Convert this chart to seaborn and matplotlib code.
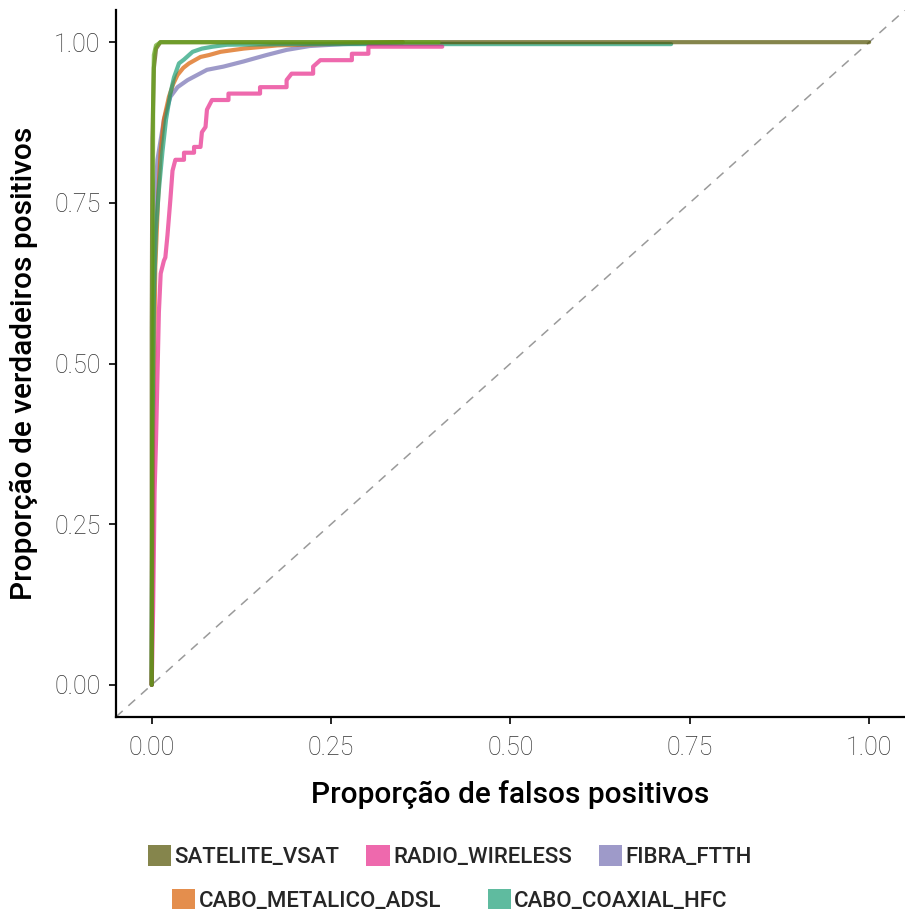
import numpy as np
import pandas as pd
import matplotlib
matplotlib.use("Agg")
import matplotlib.pyplot as plt
from matplotlib.patches import Patch
import seaborn as sns

# ROC curve points (fpr, tpr)
classes = ["SATELITE_VSAT", "RADIO_WIRELESS", "FIBRA_FTTH",
           "CABO_METALICO_ADSL", "CABO_COAXIAL_HFC"]

sat_fpr = [0.0, 0.0, 0.001, 0.003, 0.006, 0.012, 1.0]
sat_tpr = [0.0, 0.55, 0.85, 0.96, 0.99, 1.0, 1.0]

radio_fpr = [0.0, 0.002, 0.004, 0.006, 0.008, 0.010, 0.0125, 0.017, 0.019, 0.022,
             0.026, 0.029, 0.033, 0.045, 0.045, 0.059, 0.059, 0.068, 0.070, 0.075,
             0.077, 0.084, 0.107, 0.107, 0.151, 0.151, 0.188, 0.188, 0.195, 0.225,
             0.225, 0.235, 0.279, 0.279, 0.302, 0.302, 0.405]
radio_tpr = [0.0, 0.12, 0.30, 0.38, 0.48, 0.58, 0.64, 0.66, 0.665, 0.70,
             0.755, 0.80, 0.817, 0.817, 0.828, 0.828, 0.837, 0.837, 0.86, 0.868,
             0.895, 0.91, 0.91, 0.92, 0.92, 0.93, 0.93, 0.941, 0.951, 0.951,
             0.962, 0.972, 0.972, 0.982, 0.982, 0.993, 0.993]

fibra_fpr = [0.0, 0.001, 0.003, 0.005, 0.008, 0.0125, 0.017, 0.026, 0.036, 0.05,
             0.077, 0.10, 0.128, 0.16, 0.188, 0.22, 0.267, 0.35]
fibra_tpr = [0.0, 0.40, 0.68, 0.76, 0.817, 0.848, 0.879, 0.915, 0.93, 0.941,
             0.957, 0.962, 0.97, 0.98, 0.988, 0.994, 0.997, 1.0]

metal_fpr = [0.0, 0.002, 0.005, 0.009, 0.0125, 0.017, 0.024, 0.030, 0.036, 0.044,
             0.052, 0.068, 0.080, 0.096, 0.128, 0.175, 0.27, 0.35]
metal_tpr = [0.0, 0.40, 0.65, 0.76, 0.83, 0.88, 0.915, 0.935, 0.949, 0.96,
             0.967, 0.977, 0.98, 0.985, 0.99, 0.995, 0.998, 1.0]

coax_fpr = [0.0, 0.001, 0.003, 0.006, 0.010, 0.015, 0.020, 0.026, 0.031, 0.038,
            0.045, 0.057, 0.070, 0.085, 0.105, 0.20, 0.724]
coax_tpr = [0.0, 0.35, 0.60, 0.71, 0.77, 0.83, 0.88, 0.92, 0.945, 0.967,
            0.973, 0.985, 0.99, 0.993, 0.996, 0.997, 0.997]

# extra curve drawn in the reference but absent from its legend
extra_fpr = [0.0, 0.002, 0.003, 0.006, 0.0125, 0.40]
extra_tpr = [0.0, 0.90, 0.98, 0.995, 1.0, 1.0]

colors = {
    "SATELITE_VSAT": "#525200",
    "RADIO_WIRELESS": "#e7298a",
    "FIBRA_FTTH": "#7570b3",
    "CABO_METALICO_ADSL": "#d95f02",
    "CABO_COAXIAL_HFC": "#1b9e77",
    "OUTRO": "#66a61e",
}

# drawing order: later rows end up on top
frames = []
for name, fx, ty in [("FIBRA_FTTH", fibra_fpr, fibra_tpr),
                     ("CABO_METALICO_ADSL", metal_fpr, metal_tpr),
                     ("CABO_COAXIAL_HFC", coax_fpr, coax_tpr),
                     ("RADIO_WIRELESS", radio_fpr, radio_tpr),
                     ("SATELITE_VSAT", sat_fpr, sat_tpr),
                     ("OUTRO", extra_fpr, extra_tpr)]:
    frames.append(pd.DataFrame({"fpr": fx, "tpr": ty, "classe": name}))
df = pd.concat(frames, ignore_index=True)

sns.set_theme(style="white")
plt.rcParams["font.family"] = ["Roboto", "DejaVu Sans"]

fig = plt.figure(figsize=(9.05, 9.13), dpi=100)
ax = fig.add_axes([0.128, 0.2147, 0.872, 0.7743])

ax.axline((0, 0), (1, 1), color="#9a9a9a", lw=1.1, ls=(0, (6, 5)), zorder=1)

sns.lineplot(data=df, x="fpr", y="tpr", hue="classe", palette=colors,
             hue_order=list(df["classe"].unique()),
             sort=False, estimator=None, lw=3.0, alpha=0.7, legend=False, ax=ax)

ax.set_xlim(-0.05, 1.05)
ax.set_ylim(-0.05, 1.05)
ticks = [0.0, 0.25, 0.5, 0.75, 1.0]
labels = ["0.00", "0.25", "0.50", "0.75", "1.00"]
ax.set_xticks(ticks)
ax.set_yticks(ticks)
ax.set_xticklabels(labels, fontsize=18, fontweight="light", color="#333333")
ax.set_yticklabels(labels, fontsize=18, fontweight="light", color="#333333")
ax.tick_params(axis="both", direction="out", length=5, width=1.2, color="black",
               bottom=True, left=True)
ax.tick_params(axis="x", pad=9)
ax.tick_params(axis="y", pad=6)

for s in ["top", "right"]:
    ax.spines[s].set_visible(False)
for s in ["left", "bottom"]:
    ax.spines[s].set_color("black")
    ax.spines[s].set_linewidth(1.6)

ax.set_xlabel("Proporção de falsos positivos", fontsize=21.5, fontweight="medium",
              labelpad=14, color="black")
ax.set_ylabel("Proporção de verdadeiros positivos", fontsize=21.5, fontweight="medium",
              labelpad=12, color="black")

def key(name):
    return Patch(facecolor=colors[name], alpha=0.7, edgecolor="none", label=name)

row1 = ["SATELITE_VSAT", "RADIO_WIRELESS", "FIBRA_FTTH"]
row2 = ["CABO_METALICO_ADSL", "CABO_COAXIAL_HFC"]
leg_kw = dict(frameon=False, handlelength=1.05, handleheight=1.05,
              handletextpad=0.15, borderaxespad=0,
              prop={"family": ["Roboto", "DejaVu Sans"], "size": 16, "weight": "medium"})
fig.legend(handles=[key(n) for n in row1], ncol=3, loc="center", columnspacing=1.2,
           bbox_to_anchor=(0.497, 0.062), **leg_kw)
fig.legend(handles=[key(n) for n in row2], ncol=2, loc="center", columnspacing=2.1,
           bbox_to_anchor=(0.497, 0.014), **leg_kw)

fig.savefig("out.png", dpi=100)
